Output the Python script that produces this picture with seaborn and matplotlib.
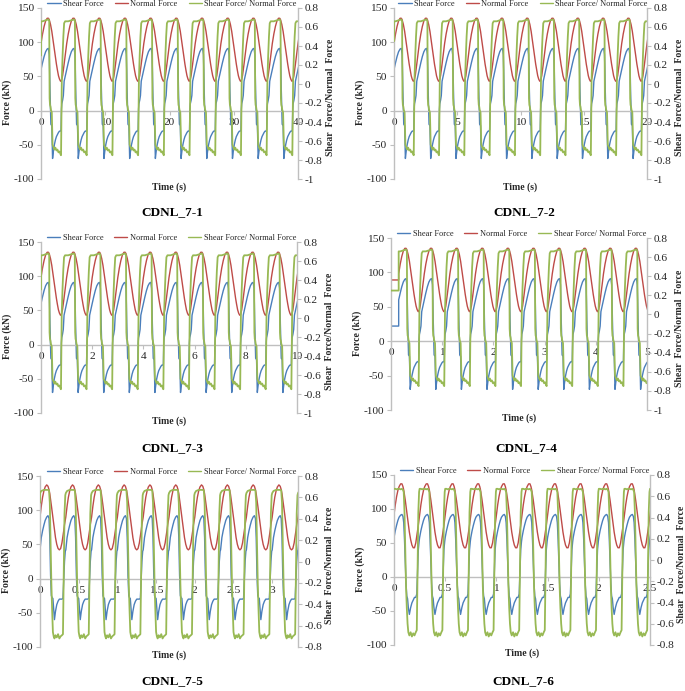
import numpy as np
import pandas as pd
import seaborn as sns
import matplotlib.pyplot as plt
from matplotlib.lines import Line2D
from matplotlib.ticker import FuncFormatter

# One loading cycle (phase = fraction of one period).
# Shape "a" is used by tests 7-1 .. 7-4, "b" by 7-5, "c" by 7-6.
phase_a = [0.00, 0.06, 0.12, 0.18, 0.24, 0.29, 0.32, 0.335, 0.35, 0.37, 0.385, 0.42, 0.45,
           0.48, 0.52, 0.56, 0.60, 0.64, 0.68, 0.72, 0.76, 0.78, 0.795, 0.81, 0.84, 0.87,
           0.90, 0.94, 0.97]
shear_a = [60, 70, 79, 86, 90, 91, 82, 60, 30, 0, -20, -22, -70, -60, -50, -43, -38, -35,
           -32, -30, -30, -28, 2, 10, 15, 22, 43, 50, 55]
normal_a = [98, 112, 123, 131, 135, 135, 133, 131, 129, 126, 123, 116, 108, 100, 89, 78, 68,
            59, 51, 46, 43, 43, 44, 46, 51, 59, 68, 80, 89]
ratio_a = [0.66, 0.66, 0.665, 0.67, 0.675, 0.68, 0.66, -0.15, -0.22, -0.24, -0.27, -0.30,
           -0.64, -0.66, -0.69, -0.67, -0.70, -0.69, -0.72, -0.71, -0.74, -0.75, -0.30, 0.05,
           0.30, 0.50, 0.64, 0.66, 0.66]

phase_b = [0.00, 0.05, 0.10, 0.15, 0.20, 0.26, 0.31, 0.35, 0.38, 0.41, 0.44, 0.47, 0.50,
           0.53, 0.56, 0.60, 0.65, 0.70, 0.75, 0.80, 0.85, 0.89, 0.92, 0.95, 0.98]
shear_b = [42, 60, 70, 78, 85, 90, 92, 88, 60, 5, -25, -28, -29, -45, -60, -48, -38, -33,
           -30, -30, -30, -29, 0, 25, 40]
normal_b = [90, 106, 119, 128, 134, 137, 135, 130, 124, 116, 107, 98, 89, 80, 71, 60, 50, 44,
            42, 44, 52, 62, 70, 79, 86]
ratio_b = [0.64, 0.66, 0.665, 0.67, 0.67, 0.67, 0.67, 0.665, 0.55, 0.15, -0.20, -0.45, -0.66,
           -0.70, -0.72, -0.69, -0.71, -0.68, -0.72, -0.70, -0.69, -0.68, -0.10, 0.45, 0.62]

phase_c = phase_b
shear_c = [58, 68, 76, 83, 88, 91, 92, 89, 80, 55, 20, -10, -28, -32, -45, -55, -45, -38,
           -34, -30, -30, -25, 10, 40, 52]
normal_c = [92, 106, 118, 127, 133, 137, 137, 133, 128, 121, 113, 104, 95, 86, 77, 66, 55, 47,
            43, 43, 50, 60, 68, 76, 85]
ratio_c = [0.67, 0.67, 0.665, 0.67, 0.67, 0.665, 0.67, 0.66, 0.64, 0.45, 0.10, -0.25, -0.45,
           -0.60, -0.68, -0.71, -0.68, -0.72, -0.69, -0.71, -0.68, -0.66, -0.10, 0.45, 0.64]

shapes = {
    "a": (phase_a, shear_a, normal_a, ratio_a),
    "b": (phase_b, shear_b, normal_b, ratio_b),
    "c": (phase_c, shear_c, normal_c, ratio_c),
}

# Per test
test_names = ["CDNL_7-1", "CDNL_7-2", "CDNL_7-3", "CDNL_7-4", "CDNL_7-5", "CDNL_7-6"]
test_shape = ["a", "a", "a", "a", "b", "c"]
test_period = [4.0, 2.0, 1.0, 0.5, 1 / 3, 0.25]
test_xmax = [40, 20, 10, 5, 10 / 3, 2.5]
test_xstep = [10, 5, 2, 1, 0.5, 0.5]
test_ratio_min = [-1.0, -1.0, -1.0, -1.0, -0.8, -0.8]
start_time = [0.0, 0.0, 0.0, 0.15, 0.0, 0.0]
start_shear = [25, 35, 25, 22, 40, 58]
start_normal = [98, 90, 99, 89, 90, 92]
start_ratio = [0.30, 0.45, 0.30, 0.25, 0.55, 0.67]

# Panel boxes in pixels (left, top, right, bottom) on a 685x691 canvas
boxes = [(41, 8, 298, 179), (394, 8, 647, 179),
         (41, 242, 297, 413), (391, 238, 647, 410),
         (40, 476, 298, 647), (394, 475, 650, 645)]
title_pos = [(172, 212), (524, 212), (172, 448), (526, 448), (172, 681), (523, 681)]

BLUE, RED, GREEN = "#4A7EBB", "#BE4B48", "#98B954"
GRAY = "#BFBFBF"
TXT = "#262626"

sns.set_theme(style="white")
plt.rcParams["font.family"] = ["Liberation Serif", "DejaVu Serif"]
plt.rcParams["axes.unicode_minus"] = False

W, H = 685, 691
fig = plt.figure(figsize=(W / 100, H / 100), dpi=100)
fmt = FuncFormatter(lambda v, p: f"{round(v, 3) + 0:g}")


def build(i):
    ph, sh, no, ra = shapes[test_shape[i]]
    t0, T = start_time[i], test_period[i]
    n = int(np.ceil((test_xmax[i] - t0) / T)) + 1
    t = [0.0, t0] + [t0 + (k + p) * T for k in range(n) for p in ph]
    return pd.DataFrame({
        "time": t,
        "shear": [start_shear[i]] * 2 + list(sh) * n,
        "normal": [start_normal[i]] * 2 + list(no) * n,
        "ratio": [start_ratio[i]] * 2 + list(ra) * n,
    })


for i, name in enumerate(test_names):
    l, t, r, b = boxes[i]
    ax = fig.add_axes([l / W, 1 - b / H, (r - l) / W, (b - t) / H])
    ax2 = ax.twinx()
    df = build(i)

    sns.lineplot(data=df, x="time", y="shear", ax=ax, color=BLUE, lw=1.0,
                 estimator=None, sort=False, legend=False)
    sns.lineplot(data=df, x="time", y="normal", ax=ax, color=RED, lw=1.0,
                 estimator=None, sort=False, legend=False)
    sns.lineplot(data=df, x="time", y="ratio", ax=ax2, color=GREEN, lw=1.3,
                 estimator=None, sort=False, legend=False)

    ax.set_xlim(0, test_xmax[i])
    ax.set_ylim(-100, 150)
    ax2.set_ylim(test_ratio_min[i], 0.8)
    ax.set_xticks(np.arange(0, test_xmax[i] + 1e-6, test_xstep[i]))
    ax.set_yticks([-100, -50, 0, 50, 100, 150])
    ax2.set_yticks(np.arange(test_ratio_min[i], 0.8 + 1e-6, 0.2))
    for a in (ax, ax2):
        a.xaxis.set_major_formatter(fmt)
        a.yaxis.set_major_formatter(fmt)
        a.set_xlabel("")
        a.set_ylabel("")
        a.grid(False)

    # Excel style: category axis crossing at zero, grey axis lines
    ax.spines["bottom"].set_position(("data", 0))
    ax.spines["top"].set_visible(False)
    ax.spines["right"].set_visible(False)
    for s in ("top", "bottom", "left"):
        ax2.spines[s].set_visible(False)
    for s in (ax.spines["bottom"], ax.spines["left"], ax2.spines["right"]):
        s.set_color(GRAY)
        s.set_linewidth(1.0)
    ax.tick_params(axis="both", direction="out", length=3, width=0.8, color=GRAY,
                   labelsize=8.2, labelcolor=TXT, pad=2, bottom=True, left=True)
    ax2.tick_params(axis="y", direction="out", length=3, width=0.8, color=GRAY,
                    labelsize=8.2, labelcolor=TXT, pad=1.5, right=True)

    lab = dict(fontsize=7, fontweight="bold", color=TXT, textcoords="offset pixels",
               xycoords="axes fraction", ha="center", va="center")
    ax.annotate("Time (s)", xy=(0.5, 0), xytext=(0, -8), **lab)
    ax.annotate("Force (kN)", xy=(0, 0.5), xytext=(-34, -9), rotation=90, **lab)
    ax2.annotate("Shear  Force/Normal  Force", xy=(1, 0.5), xytext=(32, -4),
                 rotation=90, **lab)

    handles = [Line2D([], [], color=BLUE, lw=1.0), Line2D([], [], color=RED, lw=1.0),
               Line2D([], [], color=GREEN, lw=1.0)]
    ax2.legend(handles, ["Shear Force", "Normal Force", "Shear Force/ Normal Force"],
               loc="upper center", bbox_to_anchor=(0.51, 1.045), ncol=3, frameon=False,
               fontsize=6, handlelength=1.6, handletextpad=0.3, columnspacing=1.3,
               borderaxespad=0, borderpad=0, labelcolor=TXT)

    fig.text(title_pos[i][0] / W, 1 - title_pos[i][1] / H, name, fontsize=9.5,
             fontweight="bold", color="black", ha="center", va="center")

fig.savefig("out.png", dpi=100)
